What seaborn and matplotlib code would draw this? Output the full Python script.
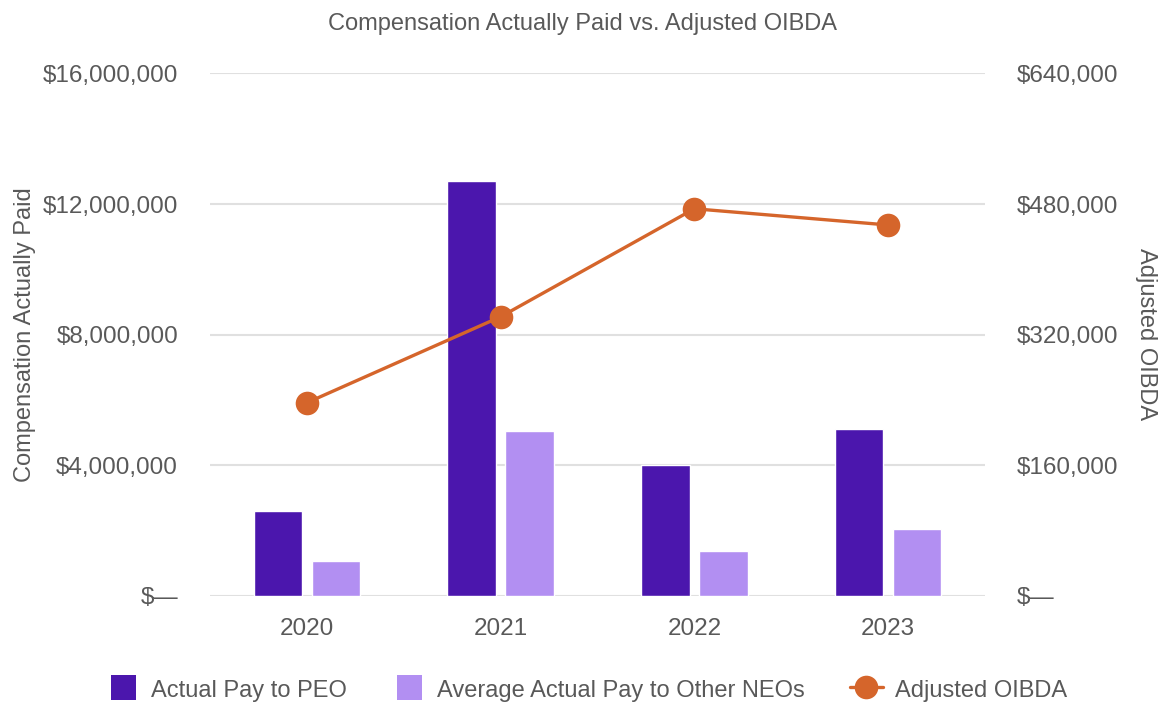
import matplotlib
matplotlib.use("Agg")
import matplotlib.pyplot as plt
import seaborn as sns
import pandas as pd
from matplotlib.ticker import FuncFormatter, FixedLocator
from matplotlib.lines import Line2D

years = ["2020", "2021", "2022", "2023"]
peo_pay = [2590000, 12700000, 4000000, 5100000]
neo_pay = [1060000, 5040000, 1360000, 2040000]
oibda = [236400, 341800, 474200, 454300]
series_names = ["Actual Pay to PEO", "Average Actual Pay to Other NEOs", "Adjusted OIBDA"]
left_ticks = [0, 4000000, 8000000, 12000000, 16000000]
right_ticks = [0, 160000, 320000, 480000, 640000]

c_peo = "#4B16AD"
c_neo = "#B28FF2"
c_line = "#D5652B"
txt = "#595959"

sns.set_theme(style="white")
plt.rcParams["font.family"] = ["Liberation Sans", "DejaVu Sans"]

df = pd.DataFrame({
    "year": years * 2,
    "value": peo_pay + neo_pay,
    "series": [series_names[0]] * 4 + [series_names[1]] * 4,
})

fig = plt.figure(figsize=(11.64, 7.04), dpi=100)
ax = fig.add_axes([0.1804, 0.154, 0.8462 - 0.1804, 0.8956 - 0.154])
sns.barplot(data=df, x="year", y="value", hue="series", order=years,
            hue_order=series_names[:2], palette=[c_peo, c_neo],
            width=0.6, gap=0.167, saturation=1, ax=ax, legend=False)
ax.set_xlim(-0.5, 3.5)
ax.set_ylim(0, 16000000)
ax.yaxis.set_major_locator(FixedLocator(left_ticks))
fmt_money = FuncFormatter(lambda v, p: "$\u2014" if v == 0 else f"${v:,.0f}")
ax.yaxis.set_major_formatter(fmt_money)
ax.grid(axis="y", color="#E0E0E0", linewidth=1.5)
ax.set_axisbelow(True)
for s in ax.spines.values():
    s.set_visible(False)
ax.tick_params(axis="both", length=0, labelsize=17.5, colors=txt)
ax.tick_params(axis="y", pad=23)
ax.tick_params(axis="x", pad=16)
ax.set_xlabel("")
ax.set_ylabel("Compensation Actually Paid", fontsize=17, color=txt, labelpad=5)

ax2 = ax.twinx()
sns.lineplot(x=[0, 1, 2, 3], y=oibda, ax=ax2, color=c_line, linewidth=2.4,
             marker="o", markersize=17, markeredgewidth=0, legend=False)
ax2.set_ylim(0, 640000)
ax2.yaxis.set_major_locator(FixedLocator(right_ticks))
ax2.yaxis.set_major_formatter(fmt_money)
for s in ax2.spines.values():
    s.set_visible(False)
ax2.tick_params(axis="y", length=0, labelsize=17.5, colors=txt, pad=23)
ax2.set_ylabel("Adjusted OIBDA", fontsize=17, color=txt, rotation=270, labelpad=28)
ax2.grid(False)

fig.suptitle("Compensation Actually Paid vs. Adjusted OIBDA", fontsize=17,
             color=txt, y=0.982)

handles = [
    Line2D([], [], linestyle="none", marker="s", markersize=18,
           markerfacecolor=c_peo, markeredgewidth=0),
    Line2D([], [], linestyle="none", marker="s", markersize=18,
           markerfacecolor=c_neo, markeredgewidth=0),
    Line2D([], [], color=c_line, linewidth=2.4, marker="o", markersize=17,
           markeredgewidth=0),
]
fig.legend(handles, series_names, loc="lower center", ncol=3, frameon=False,
           fontsize=17, labelcolor=txt, bbox_to_anchor=(0.504, -0.028),
           handlelength=1.4, handleheight=1.2, columnspacing=1.9, handletextpad=0.5)

fig.savefig("out.png", dpi=100)
